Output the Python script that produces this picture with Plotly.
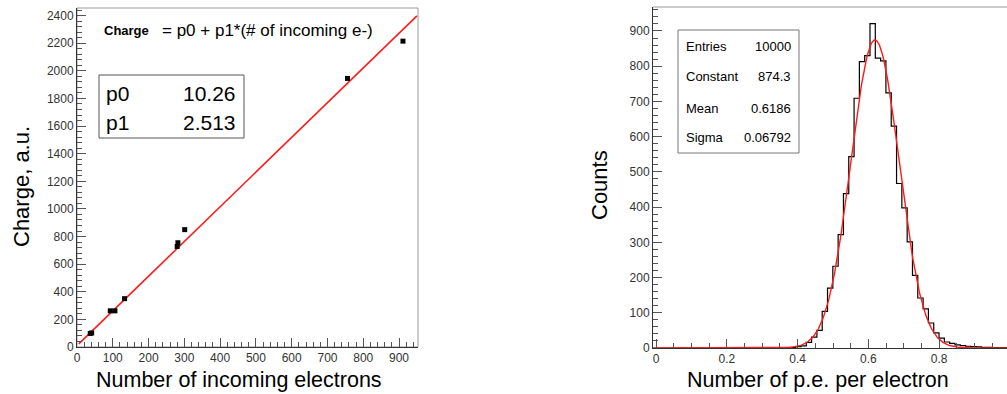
import numpy as np
import plotly.graph_objects as go

# ---------------- data: left panel ----------------
electrons = [37, 41, 93, 106, 133, 280, 282, 301, 756, 911]
charge = [98, 102, 262, 262, 350, 728, 755, 850, 1945, 2215]
p0 = 10.26
p1 = 2.513
fit_x_range = [5, 950]

# ---------------- data: right panel ----------------
hist_first_edge = 0.3645
bin_width = 0.015
counts = [1, 2, 4, 6, 16, 31, 50, 104, 170, 232, 322, 438, 543, 709, 813,
          830, 921, 823, 815, 724, 630, 467, 398, 301, 206, 142, 111, 71,
          43, 28, 17, 13, 9, 7, 5, 4, 3, 2, 2, 1, 1, 1]
entries = 10000
g_const = 874.3
g_mean = 0.6186
g_sigma = 0.06792

W, H = 1007, 394
FONT = "Liberation Sans, Arial, sans-serif"


def px(x):
    return x / W


def py(y):
    return (H - y) / H


fig = go.Figure()

# left: fit line + points
fx = np.array(fit_x_range, dtype=float)
fig.add_trace(go.Scatter(x=fx, y=p0 + p1 * fx, mode="lines",
                         line=dict(color="#ff1a1a", width=1.6),
                         xaxis="x", yaxis="y", showlegend=False, hoverinfo="skip"))
fig.add_trace(go.Scatter(x=electrons, y=charge, mode="markers",
                         marker=dict(symbol="square", size=5, color="black"),
                         xaxis="x", yaxis="y", showlegend=False))

# right: histogram as step line
x_lo, x_hi = -0.0085, 0.9915
edges = [hist_first_edge + bin_width * i for i in range(len(counts) + 1)]
hx = [x_lo] + edges + [1.0]
hy = [0] + counts + [0, 0]
fig.add_trace(go.Scatter(x=hx, y=hy, mode="lines", line_shape="hv",
                         line=dict(color="black", width=1.2),
                         xaxis="x2", yaxis="y2", showlegend=False))
gx = np.linspace(0, 1, 500)
gy = g_const * np.exp(-0.5 * ((gx - g_mean) / g_sigma) ** 2)
fig.add_trace(go.Scatter(x=gx, y=gy, mode="lines",
                         line=dict(color="#ff1a1a", width=1.4),
                         xaxis="x2", yaxis="y2", showlegend=False, hoverinfo="skip"))

tickfont = dict(family=FONT, size=12, color="#333")
common = dict(showgrid=False, zeroline=False, showline=True, linecolor="#333",
              linewidth=1, ticks="inside", ticklen=9, tickcolor="#555",
              tickfont=tickfont, automargin=False)

fig.update_layout(
    template="none",
    width=W, height=H, autosize=False,
    margin=dict(l=0, r=0, t=0, b=0, pad=0),
    paper_bgcolor="white", plot_bgcolor="white",
    xaxis=dict(domain=[px(77), px(418)], range=[0, 953], tick0=0, dtick=100,
               minor=dict(ticks="inside", dtick=20, ticklen=5, tickcolor="#555"),
               anchor="y", **common),
    yaxis=dict(domain=[py(347), py(8)], range=[0, 2455], tick0=0, dtick=200,
               minor=dict(ticks="inside", dtick=40, ticklen=5, tickcolor="#555"),
               anchor="x", **common),
    xaxis2=dict(domain=[px(653), 1.0], range=[x_lo, x_hi], tick0=0, dtick=0.2,
                minor=dict(ticks="inside", dtick=0.05, ticklen=5, tickcolor="#555"),
                anchor="y2", **common),
    yaxis2=dict(domain=[py(348), py(7)], range=[0, 968], tick0=0, dtick=100,
                minor=dict(ticks="inside", dtick=20, ticklen=5, tickcolor="#555"),
                anchor="x2", **common),
)

shapes = [
    # frames (top/right)
    dict(type="rect", xref="x domain", yref="y domain", x0=0, x1=1, y0=0, y1=1,
         line=dict(color="#999", width=1), layer="below"),
    dict(type="line", xref="x2 domain", yref="y2 domain", x0=0, x1=1, y0=1, y1=1,
         line=dict(color="#999", width=1), layer="below"),
    # stats boxes
    dict(type="rect", xref="paper", yref="paper", x0=px(99), x1=px(244),
         y0=py(138), y1=py(75), line=dict(color="#555", width=1),
         fillcolor="white"),
    dict(type="rect", xref="paper", yref="paper", x0=px(678), x1=px(799),
         y0=py(153), y1=py(30), line=dict(color="#777", width=1),
         fillcolor="white"),
]
fig.update_layout(shapes=shapes)


def ann(text, x, y, size, xanchor="center", angle=0, color="black"):
    return dict(text=text, x=px(x), y=py(y), xref="paper", yref="paper",
                xanchor=xanchor, yanchor="middle", showarrow=False,
                textangle=angle, font=dict(family=FONT, size=size, color=color))


annotations = [
    ann("<b>Charge</b>", 102, 31, 13, "left"),
    ann("= p0 + p1*(# of incoming e-)", 160, 30, 17, "left"),
    ann("p0", 104, 93, 21, "left"),
    ann(f"{p0:.2f}", 238, 93, 21, "right"),
    ann("p1", 104, 122, 21, "left"),
    ann(f"{p1:.3f}", 238, 122, 21, "right"),
    ann("Entries", 684, 47, 13, "left"),
    ann(f"{entries}", 793, 47, 13, "right"),
    ann("Constant", 684, 77, 13, "left"),
    ann(f"{g_const}", 793, 77, 13, "right"),
    ann("Mean", 684, 108, 13, "left"),
    ann(f"{g_mean}", 793, 108, 13, "right"),
    ann("Sigma", 684, 137, 13, "left"),
    ann(f"{g_sigma}", 793, 137, 13, "right"),
    ann("Number of incoming electrons", 239, 380, 21.5),
    ann("Charge, a.u.", 21, 187, 22, angle=-90),
    ann("Number of p.e. per electron", 818, 380, 21.5),
    ann("Counts", 599, 185, 22, angle=-90),
]
fig.update_layout(annotations=annotations)

fig.write_html("out.html", config={"displayModeBar": False},
               post_script="document.body.style.margin='0px';"
                           "document.body.style.overflow='hidden';")
